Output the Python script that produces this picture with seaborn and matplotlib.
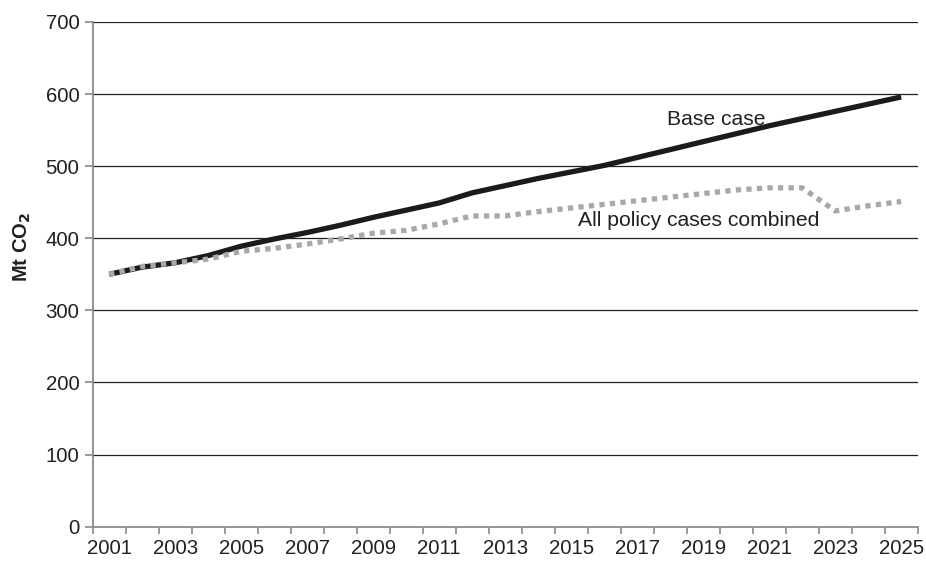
import matplotlib
matplotlib.use("Agg")
import matplotlib.pyplot as plt
from matplotlib.ticker import FixedLocator, NullFormatter
import numpy as np
import pandas as pd
import seaborn as sns

years = list(range(2001, 2026))
base_case = [350, 360, 366, 376, 389, 399, 408, 418, 429, 439, 449, 463, 473, 483,
             492, 501, 512, 523, 534, 545, 556, 566, 576, 586, 596]
policy_combined = [350, 361, 366, 371, 382, 386, 392, 399, 407, 411, 420, 431, 431, 437,
                   442, 447, 452, 457, 462, 467, 470, 470, 438, 445, 451]
y_ticks = [0, 100, 200, 300, 400, 500, 600, 700]
x_tick_labels = [str(y) for y in years[::2]]

df = pd.DataFrame({"year": years, "Base case": base_case,
                   "All policy cases combined": policy_combined})

sns.set_theme(style="white")
plt.rcParams["font.family"] = ["Liberation Sans", "DejaVu Sans"]

fig = plt.figure(figsize=(9.26, 5.63), dpi=100)
ax = fig.add_axes([0.1001, 0.0645, 0.8909, 0.8965])

text_color = "#231f20"
axis_gray = "#8a8a8a"
tick_size = 14.7
note_size = 15.2

# horizontal gridlines above zero
for v in y_ticks[1:]:
    ax.axhline(v, color="#231f20", lw=0.9, zorder=0)

sns.lineplot(data=df, x="year", y="Base case", ax=ax, color="#1c1a1b",
             lw=3.8, solid_capstyle="butt", zorder=3)
sns.lineplot(data=df, x="year", y="All policy cases combined", ax=ax,
             color="#a7a8aa", lw=3.8, linestyle=(0, (1, 1)),
             dash_capstyle="butt", zorder=4)

ax.set_xlim(2000.5, 2025.5)
ax.set_ylim(0, 700)

# category-style x axis: labels on every other year, tick marks between years
ax.xaxis.set_major_locator(FixedLocator(years[::2]))
ax.set_xticklabels(x_tick_labels)
ax.xaxis.set_minor_locator(FixedLocator(np.arange(2000.5, 2026.0, 1.0)))
ax.xaxis.set_minor_formatter(NullFormatter())
ax.tick_params(axis="x", which="major", length=0, pad=9, labelsize=tick_size,
               labelcolor=text_color)
ax.tick_params(axis="x", which="minor", length=5, width=1.2, color=axis_gray,
               direction="out", bottom=True)

ax.set_yticks(y_ticks)
ax.tick_params(axis="y", which="major", length=5.5, width=1.2, color=axis_gray,
               direction="out", left=True, pad=4, labelsize=tick_size,
               labelcolor=text_color)

for side in ["top", "right"]:
    ax.spines[side].set_visible(False)
for side in ["left", "bottom"]:
    ax.spines[side].set_color(axis_gray)
    ax.spines[side].set_linewidth(1.3)

ax.set_xlabel("")
ax.set_ylabel("")
fig.text(22 / 926, 1 - 247 / 563, "Mt CO$_\\mathbf{2}$", fontsize=14.5,
         fontweight="bold", color=text_color, rotation=90,
         ha="center", va="center")

ax.text(2019.4, 565, "Base case", fontsize=note_size, color=text_color,
        ha="center", va="center")
ax.text(2018.85, 424, "All policy cases combined", fontsize=note_size,
        color=text_color, ha="center", va="center")

fig.savefig("out.png", dpi=100)
